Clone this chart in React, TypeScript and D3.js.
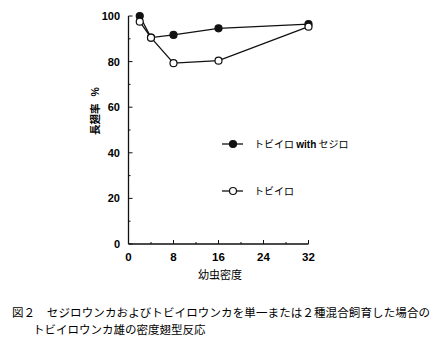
import React, { useEffect, useRef } from 'react';
import * as d3 from 'd3';

// larval density (x) and long-winged rate % (y)
const densities = [2, 4, 8, 16, 32];
const withSejiro = [100, 90.5, 91.7, 94.6, 96.4];
const tobiiroOnly = [97.5, 90.5, 79.3, 80.4, 95.3];
const xTicks = [0, 8, 16, 24, 32];
const yTicks = [0, 20, 40, 60, 80, 100];
const legendLabels = [['トビイロ ', 'with', ' セジロ'], ['トビイロ']];
const captionLines = [
  '図２　セジロウンカおよびトビイロウンカを単一または２種混合飼育した場合の',
  'トビイロウンカ雄の密度翅型反応',
];

const W = 448;
const H = 354;
const jpFont = '"Noto Sans CJK JP", "Noto Sans", sans-serif';
const numFont = '"Liberation Sans", Arial, sans-serif';

const App = () => {
  const svgRef = useRef<SVGSVGElement>(null);

  useEffect(() => {
    document.body.style.margin = '0';
    const svg = d3.select(svgRef.current);
    svg.selectAll('*').remove();

    svg.append('rect').attr('width', W).attr('height', H).attr('fill', '#fff');

    const x = d3.scaleLinear().domain([0, 32]).range([128.5, 308.5]);
    const y = d3.scaleLinear().domain([0, 100]).range([244, 16]);

    const g = svg.append('g');

    // axes lines
    g.append('line')
      .attr('x1', x(0)).attr('x2', x(0))
      .attr('y1', y(100)).attr('y2', y(0))
      .attr('stroke', '#111').attr('stroke-width', 1.3);
    g.append('line')
      .attr('x1', x(0)).attr('x2', x(32))
      .attr('y1', y(0)).attr('y2', y(0))
      .attr('stroke', '#111').attr('stroke-width', 1.3);

    // y ticks (inward), minor every 10
    d3.range(0, 101, 10).forEach(v => {
      const major = v % 20 === 0;
      g.append('line')
        .attr('x1', x(0)).attr('x2', x(0) + (major ? 4 : 2))
        .attr('y1', y(v)).attr('y2', y(v))
        .attr('stroke', '#111').attr('stroke-width', 1);
    });
    // x ticks (inward), minor every 4
    d3.range(0, 33, 4).forEach(v => {
      const major = v % 8 === 0;
      g.append('line')
        .attr('x1', x(v)).attr('x2', x(v))
        .attr('y1', y(0)).attr('y2', y(0) - (major ? 4 : 2))
        .attr('stroke', '#111').attr('stroke-width', 1);
    });

    yTicks.forEach(v => {
      g.append('text')
        .attr('x', 120).attr('y', y(v)).attr('dy', '0.36em')
        .attr('text-anchor', 'end')
        .style('font-family', numFont).style('font-weight', 'bold').style('font-size', '11px')
        .text(v);
    });
    xTicks.forEach(v => {
      g.append('text')
        .attr('x', x(v)).attr('y', 261)
        .attr('text-anchor', 'middle')
        .style('font-family', numFont).style('font-weight', 'bold').style('font-size', '11.5px')
        .text(v);
    });

    // axis titles
    g.append('text')
      .attr('x', 220).attr('y', 279)
      .attr('text-anchor', 'middle')
      .style('font-family', jpFont).style('font-size', '11px')
      .text('幼虫密度');
    const yTitle = g.append('text')
      .attr('transform', 'translate(98.5,111) rotate(-90)')
      .attr('text-anchor', 'middle')
      .style('font-family', jpFont).style('font-weight', 'bold').style('font-size', '10.5px');
    yTitle.append('tspan').text('長翅率');
    yTitle.append('tspan').attr('dx', 7).style('font-family', numFont).text('%');

    const line = d3.line<number>()
      .x((d, i) => x(densities[i]))
      .y(d => y(d));

    const series = [
      { values: withSejiro, filled: true },
      { values: tobiiroOnly, filled: false },
    ];

    series.forEach(s => {
      g.append('path')
        .datum(s.values)
        .attr('d', line)
        .attr('fill', 'none')
        .attr('stroke', '#111')
        .attr('stroke-width', 1.3);
    });
    series.forEach(s => {
      g.selectAll(null)
        .data(s.values)
        .enter()
        .append('circle')
        .attr('cx', (d, i) => x(densities[i]))
        .attr('cy', d => y(d))
        .attr('r', 3.5)
        .attr('fill', s.filled ? '#111' : '#fff')
        .attr('stroke', '#111')
        .attr('stroke-width', 1.2);
    });

    // legend
    const legendY = [144, 191];
    series.forEach((s, i) => {
      g.append('line')
        .attr('x1', 222).attr('x2', 243)
        .attr('y1', legendY[i]).attr('y2', legendY[i])
        .attr('stroke', '#111').attr('stroke-width', 1.3);
      g.append('circle')
        .attr('cx', 233).attr('cy', legendY[i]).attr('r', 3.5)
        .attr('fill', s.filled ? '#111' : '#fff')
        .attr('stroke', '#111').attr('stroke-width', 1.2);
      const t = g.append('text')
        .attr('x', 254).attr('y', legendY[i]).attr('dy', '0.36em')
        .style('font-family', jpFont).style('font-size', '10px');
      legendLabels[i].forEach(part => {
        const ts = t.append('tspan').text(part);
        if (part === 'with') ts.style('font-family', numFont).style('font-weight', 'bold');
      });
    });

    // caption
    g.append('text')
      .attr('x', 12).attr('y', 317)
      .attr('textLength', 418)
      .style('font-family', jpFont).style('font-size', '11.5px')
      .text(captionLines[0]);
    g.append('text')
      .attr('x', 33).attr('y', 334)
      .style('font-family', jpFont).style('font-size', '11.5px')
      .text(captionLines[1]);
  }, []);

  return <svg ref={svgRef} width={W} height={H} style={{ display: 'block' }} />;
};

export default App;
